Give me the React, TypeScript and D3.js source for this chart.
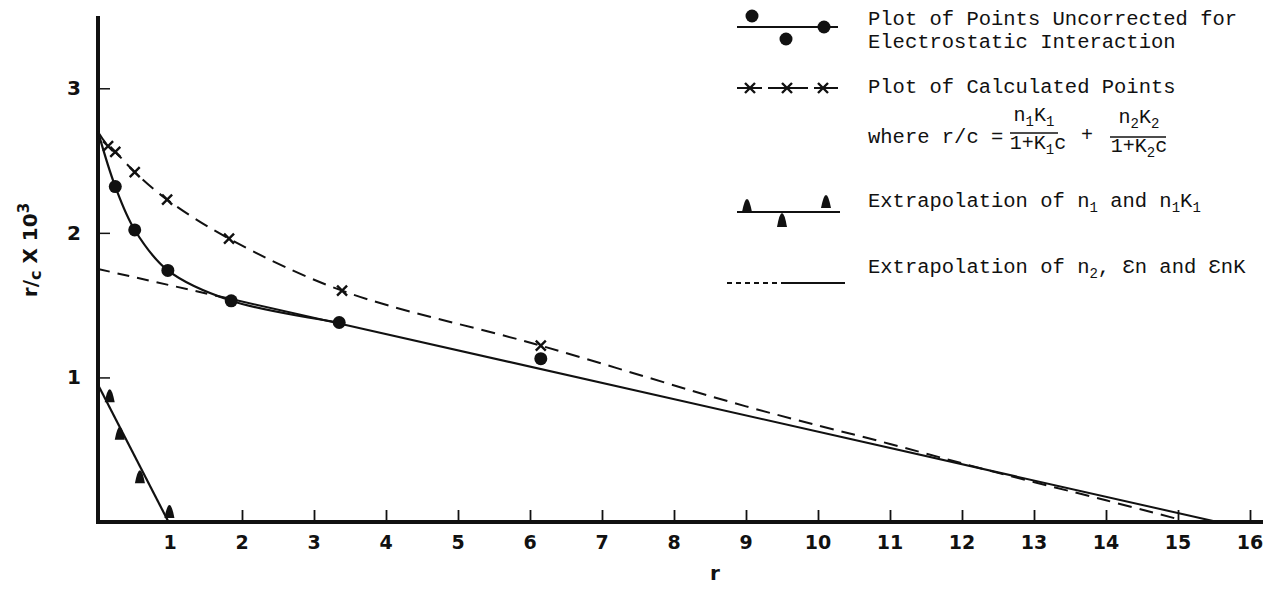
import React, { useRef, useEffect } from 'react';
import * as d3 from 'd3';

// axis ticks
const xTickValues = [2, 3, 4, 5, 6, 7, 8, 9, 10, 11, 12, 13, 14, 15, 16];
const xTickLabels = ['1', '2', '3', '4', '5', '6', '7', '8', '9', '10', '11', '12', '13', '14', '15', '16'];
const yTickValues = [1, 2, 3];

// points uncorrected for electrostatic interaction (filled circles)
const uncorrR = [0.24, 0.51, 0.97, 1.85, 3.35, 6.15];
const uncorrRc = [2.32, 2.02, 1.74, 1.53, 1.38, 1.13];
const curveIntercept = 2.7; // both curves leave the r/c axis here

// calculated points (crosses) and the tail of the dashed curve
const calcR = [0.14, 0.24, 0.51, 0.96, 1.82, 3.39, 6.15];
const calcRc = [2.6, 2.56, 2.42, 2.23, 1.96, 1.6, 1.22];
const calcTailR = [9, 11, 12.5, 14, 15];
const calcTailRc = [0.8, 0.54, 0.34, 0.15, 0.02];

// extrapolation of n1 (triangles)
const triR = [0.19, 0.33, 0.61, 1.02];
const triRc = [0.87, 0.61, 0.31, 0.07];
const n1Line = { intercept: 0.95, root: 0.98 };

// extrapolation of n2 (dashed then solid)
const n2Line = { intercept: 1.75, root: 15.55, dashEnd: 1.85 };

const App = () => {
  const svgRef = useRef(null);

  useEffect(() => {
    const width = 1263;
    const height = 590;
    const svg = d3.select(svgRef.current)
      .attr('width', width)
      .attr('height', height)
      .style('background', '#fff');
    svg.selectAll('*').remove();

    const x = d3.scaleLinear().domain([0, 16]).range([98, 1250]);
    const y = d3.scaleLinear().domain([0, 3.5]).range([522, 16]);
    const ink = '#111';
    const sans = 'DejaVu Sans, sans-serif';
    const mono = 'Liberation Mono, Courier New, monospace';

    // axes
    svg.append('line')
      .attr('x1', x(0)).attr('x2', x(0))
      .attr('y1', y(3.5)).attr('y2', y(0) + 2)
      .attr('stroke', ink).attr('stroke-width', 4);
    svg.append('line')
      .attr('x1', x(0) - 2).attr('x2', width)
      .attr('y1', y(0)).attr('y2', y(0))
      .attr('stroke', ink).attr('stroke-width', 4);

    const yAxis = d3.axisRight(y).tickValues(yTickValues).tickSize(12).tickFormat(() => '');
    const gy = svg.append('g').attr('transform', `translate(${x(0)},0)`).call(yAxis);
    gy.select('.domain').remove();
    gy.selectAll('line').attr('stroke', ink).attr('stroke-width', 1.5);

    const xAxis = d3.axisTop(x).tickValues(xTickValues).tickSize(12).tickFormat(() => '');
    const gx = svg.append('g').attr('transform', `translate(0,${y(0)})`).call(xAxis);
    gx.select('.domain').remove();
    gx.selectAll('line').attr('stroke', ink).attr('stroke-width', 1.8);

    // tick labels
    svg.selectAll('.xlab')
      .data(xTickLabels)
      .join('text')
        .attr('x', (d) => x(+d))
        .attr('y', 549)
        .attr('text-anchor', 'middle')
        .attr('font-family', sans)
        .attr('font-weight', 'bold')
        .attr('font-size', 19)
        .attr('fill', ink)
        .text((d) => d);

    svg.selectAll('.ylab')
      .data(yTickValues)
      .join('text')
        .attr('x', 74)
        .attr('y', (d) => y(d) + 7)
        .attr('text-anchor', 'middle')
        .attr('font-family', sans)
        .attr('font-weight', 'bold')
        .attr('font-size', 20)
        .attr('fill', ink)
        .text((d) => d);

    // axis titles
    svg.append('text')
      .attr('x', 715).attr('y', 580)
      .attr('text-anchor', 'middle')
      .attr('font-family', sans).attr('font-weight', 'bold').attr('font-size', 20)
      .attr('fill', ink)
      .text('r');

    const yt = svg.append('text')
      .attr('transform', 'translate(37,250) rotate(-90)')
      .attr('text-anchor', 'middle')
      .attr('font-family', sans).attr('font-weight', 'bold').attr('font-size', 20)
      .attr('fill', ink);
    yt.append('tspan').text('r/');
    yt.append('tspan').attr('font-size', 16).attr('dy', 4).text('c');
    yt.append('tspan').attr('dy', -4).text(' X 10');
    yt.append('tspan').attr('font-size', 15).attr('dy', -8).text('3');

    // lines
    const line = d3.line().x((d) => x(d[0])).y((d) => y(d[1]));

    // n2 extrapolation: dashed near the axis, solid beyond
    const n2At = (r) => n2Line.intercept * (1 - r / n2Line.root);
    svg.append('path')
      .attr('d', line([[0, n2Line.intercept], [n2Line.dashEnd, n2At(n2Line.dashEnd)]]))
      .attr('fill', 'none').attr('stroke', ink).attr('stroke-width', 2)
      .attr('stroke-dasharray', '12 8');
    svg.append('path')
      .attr('d', line([[n2Line.dashEnd, n2At(n2Line.dashEnd)], [n2Line.root, 0]]))
      .attr('fill', 'none').attr('stroke', ink).attr('stroke-width', 2);

    // n1 extrapolation
    svg.append('path')
      .attr('d', line([[0, n1Line.intercept], [n1Line.root, 0]]))
      .attr('fill', 'none').attr('stroke', ink).attr('stroke-width', 2.2);

    // solid curve through the uncorrected points
    const uncorrPts = uncorrR.map((r, i) => [r, uncorrRc[i]]);
    const solidCurve = [[0, curveIntercept], ...uncorrPts.slice(0, 5)];
    svg.append('path')
      .attr('d', d3.line().x((d) => x(d[0])).y((d) => y(d[1])).curve(d3.curveCatmullRom.alpha(0.5))(solidCurve))
      .attr('fill', 'none').attr('stroke', ink).attr('stroke-width', 2.2);

    // dashed curve through the calculated points
    const calcPts = calcR.map((r, i) => [r, calcRc[i]]);
    const dashedCurve = [[0, curveIntercept], ...calcPts, ...calcTailR.map((r, i) => [r, calcTailRc[i]])];
    svg.append('path')
      .attr('d', d3.line().x((d) => x(d[0])).y((d) => y(d[1])).curve(d3.curveCatmullRom.alpha(0.5))(dashedCurve))
      .attr('fill', 'none').attr('stroke', ink).attr('stroke-width', 2)
      .attr('stroke-dasharray', '14 8');

    // markers
    svg.selectAll('.dot')
      .data(uncorrPts)
      .join('circle')
        .attr('cx', (d) => x(d[0]))
        .attr('cy', (d) => y(d[1]))
        .attr('r', 6.5)
        .attr('fill', ink);

    const cross = (g, cx, cy, s) => {
      g.append('path')
        .attr('d', `M${cx - s},${cy - s}L${cx + s},${cy + s}M${cx + s},${cy - s}L${cx - s},${cy + s}`)
        .attr('stroke', ink).attr('stroke-width', 2.4).attr('fill', 'none');
    };
    calcPts.forEach((d) => cross(svg, x(d[0]), y(d[1]), 5));

    const tri = (g, cx, baseY, w, h) => {
      g.append('path')
        .attr('d', `M${cx - w / 2},${baseY}Q${cx - w / 4},${baseY - h} ${cx},${baseY - h}Q${cx + w / 4},${baseY - h} ${cx + w / 2},${baseY}Z`)
        .attr('fill', ink);
    };
    triR.forEach((r, i) => tri(svg, x(r) - 2, y(triRc[i]) + 6, 10, 13));

    // legend
    const lg = svg.append('g');
    lg.append('line').attr('x1', 737).attr('x2', 838).attr('y1', 27).attr('y2', 27)
      .attr('stroke', ink).attr('stroke-width', 2);
    [[752, 16], [786, 39], [824, 27]].forEach(([cx, cy]) => {
      lg.append('circle').attr('cx', cx).attr('cy', cy).attr('r', 6.5).attr('fill', ink);
    });

    lg.append('line').attr('x1', 737).attr('x2', 838).attr('y1', 88).attr('y2', 88)
      .attr('stroke', ink).attr('stroke-width', 2).attr('stroke-dasharray', '25 6 40 6 40');
    [750, 787, 823].forEach((cx) => cross(lg, cx, 88, 5));

    lg.append('line').attr('x1', 737).attr('x2', 840).attr('y1', 212).attr('y2', 212)
      .attr('stroke', ink).attr('stroke-width', 2);
    tri(lg, 747, 212, 10, 13);
    tri(lg, 782, 227, 10, 14);
    tri(lg, 826, 208, 10, 13);

    lg.append('line').attr('x1', 727).attr('x2', 785).attr('y1', 283).attr('y2', 283)
      .attr('stroke', ink).attr('stroke-width', 2).attr('stroke-dasharray', '5 4');
    lg.append('line').attr('x1', 785).attr('x2', 845).attr('y1', 283).attr('y2', 283)
      .attr('stroke', ink).attr('stroke-width', 2);

    const txt = (tx, ty, size = 20.5, anchor = 'start') => lg.append('text')
      .attr('x', tx).attr('y', ty)
      .attr('font-family', mono).attr('font-size', size)
      .attr('text-anchor', anchor)
      .attr('fill', ink);

    txt(868, 25).text('Plot of Points Uncorrected for');
    txt(868, 48).text('Electrostatic Interaction');
    txt(868, 93).text('Plot of Calculated Points');
    txt(868, 143).text('where r/c =');

    const sub = (t, s, size = 14) => {
      t.append('tspan').attr('font-size', size).attr('dy', 5).text(s);
      return t;
    };
    const back = (t, s) => t.append('tspan').attr('dy', -5).text(s);

    // first fraction
    let t = txt(1034, 121, 20, 'middle');
    t.append('tspan').text('n');
    sub(t, '1'); back(t, 'K'); sub(t, '1');
    lg.append('line').attr('x1', 1010).attr('x2', 1058).attr('y1', 133).attr('y2', 133)
      .attr('stroke', ink).attr('stroke-width', 1.5);
    t = txt(1038, 149, 20, 'middle');
    t.append('tspan').text('1+K');
    sub(t, '1'); back(t, 'c');

    txt(1087, 141, 20, 'middle').text('+');

    // second fraction
    t = txt(1139, 123, 20, 'middle');
    t.append('tspan').text('n');
    sub(t, '2'); back(t, 'K'); sub(t, '2');
    lg.append('line').attr('x1', 1110).attr('x2', 1166).attr('y1', 137).attr('y2', 137)
      .attr('stroke', ink).attr('stroke-width', 1.5);
    t = txt(1139, 152, 20, 'middle');
    t.append('tspan').text('1+K');
    sub(t, '2'); back(t, 'c');

    t = txt(868, 207);
    t.append('tspan').text('Extrapolation of n');
    sub(t, '1'); back(t, ' and n');
    sub(t, '1'); back(t, 'K'); sub(t, '1');

    t = txt(868, 273);
    t.append('tspan').text('Extrapolation of n');
    sub(t, '2'); back(t, ', Ɛn and ƐnK');
  }, []);

  return (
    <div style={{ position: 'absolute', left: 0, top: 0 }}>
      <svg ref={svgRef}></svg>
    </div>
  );
};

export default App;
